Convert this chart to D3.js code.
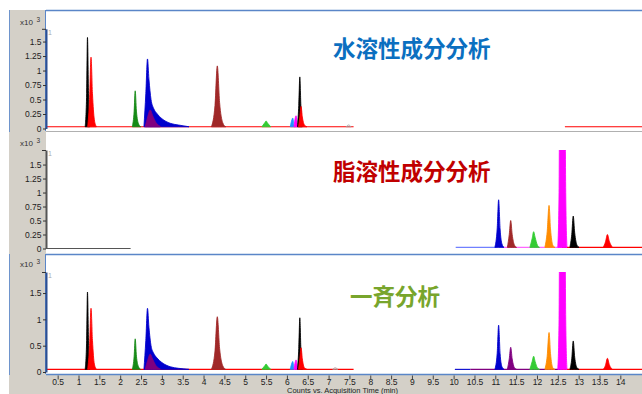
<!DOCTYPE html>
<html><head><meta charset="utf-8">
<script src="https://cdn.jsdelivr.net/npm/d3@7"></script>
<style>
body{margin:0;background:#fff}
svg{display:block}
text{font-family:"Liberation Sans",Arial,sans-serif}
.cjk{font-family:"Noto Sans CJK JP","Noto Sans CJK SC",sans-serif;font-weight:bold}
</style>
</head><body>
<svg id="c" width="642" height="394"></svg>
<script>
// ---------- data ----------
const titles = ["水溶性成分分析", "脂溶性成分分析", "一斉分析"];
const xTicks = [0.5,1,1.5,2,2.5,3,3.5,4,4.5,5,5.5,6,6.5,7,7.5,8,8.5,9,9.5,10,10.5,11,11.5,12,12.5,13,13.5,14];
const xTickLabels = ["0.5","1","1.5","2","2.5","3","3.5","4","4.5","5","5.5","6","6.5","7","7.5","8","8.5","9","9.5","10","10.5","11","11.5","12","12.5","13","13.5","14"];
const yTicksFine = [0,0.25,0.5,0.75,1,1.25,1.5];
const yTickLabelsFine = ["0","0.25","0.5","0.75","1","1.25","1.5"];
const yTicksCoarse = [0,0.5,1,1.5];
const yTickLabelsCoarse = ["0","0.5","1","1.5"];
const xAxisTitle = "Counts vs. Acquisition Time (min)";
const yUnit = "x10";
const yExp = "3";

// panel 1: water-soluble (x10^3 counts vs min)
const waterBaselines = [
  ["red",[[0.22,0.03],[7.6,0.03]]],
  ["red",[[12.67,0.03],[14.52,0.03]]]
];
const waterPeaks = [
  ["black",[[1.16,0.03],[1.195,0.6],[1.215,1.57],[1.24,0.6],[1.27,0.03]]],
  ["red",[[1.22,0.03],[1.265,0.5],[1.30,1.23],[1.335,0.6],[1.38,0.15],[1.43,0.03]]],
  ["green",[[2.29,0.03],[2.335,0.3],[2.36,0.65],[2.39,0.3],[2.44,0.08],[2.49,0.03]]],
  ["blue",[[2.57,0.03],[2.615,0.6],[2.655,1.20],[2.69,0.85],[2.74,0.5],[2.8,0.35],[2.88,0.26],[3.0,0.17],[3.2,0.09],[3.4,0.06],[3.65,0.03]]],
  ["purple",[[2.6,0.03],[2.66,0.2],[2.72,0.32],[2.78,0.22],[2.86,0.1],[2.96,0.04]]],
  ["brown",[[4.19,0.03],[4.275,0.4],[4.33,1.08],[4.385,0.45],[4.46,0.1],[4.53,0.03]]],
  ["lime",[[5.40,0.03],[5.47,0.1],[5.50,0.13],[5.54,0.09],[5.61,0.03]]],
  ["dodger",[[6.08,0.03],[6.12,0.15],[6.14,0.18],[6.17,0.06],[6.2,0.03]]],
  ["magenta",[[6.17,0.03],[6.2,0.18],[6.22,0.22],[6.25,0.08],[6.28,0.03]]],
  ["black",[[6.255,0.03],[6.285,0.4],[6.31,0.89],[6.335,0.4],[6.37,0.03]]],
  ["red",[[6.28,0.03],[6.31,0.2],[6.34,0.38],[6.37,0.2],[6.42,0.06],[6.48,0.03]]],
  ["gray",[[7.42,0.03],[7.48,0.06],[7.54,0.03]]]
];

// panel 2: fat-soluble
const fatBaselines = [
  ["dim",[[0.22,0.0],[2.25,0.0]]],
  ["lightblue",[[10.05,0.02],[11.0,0.02]]],
  ["pink",[[11.2,0.02],[12.6,0.02]]],
  ["red",[[12.6,0.02],[14.52,0.02]]]
];
const fatPeaks = [
  ["blue",[[10.99,0.02],[11.045,0.35],[11.08,0.87],[11.115,0.35],[11.16,0.08],[11.21,0.02]]],
  ["brown",[[11.29,0.02],[11.335,0.25],[11.37,0.5],[11.405,0.25],[11.46,0.06],[11.51,0.02]]],
  ["lime",[[11.83,0.02],[11.885,0.18],[11.92,0.30],[11.955,0.2],[12.01,0.06],[12.06,0.02]]],
  ["orange",[[12.19,0.02],[12.245,0.3],[12.29,0.77],[12.325,0.35],[12.38,0.06],[12.43,0.02]]],
  ["magenta",[[12.50,0.02],[12.53,1.0],[12.545,3.0],[12.61,4.5],[12.67,3.0],[12.69,1.0],[12.72,0.02]]],
  ["black",[[12.79,0.02],[12.835,0.25],[12.87,0.58],[12.905,0.28],[12.96,0.06],[13.01,0.02]]],
  ["red",[[13.59,0.02],[13.645,0.12],[13.69,0.25],[13.735,0.13],[13.81,0.02]]]
];

// panel 3: simultaneous analysis
const allBaselines = [
  ["red",[[0.22,0.05],[7.6,0.05]]],
  ["blue",[[10.03,0.05],[10.4,0.05]]],
  ["purple",[[10.4,0.05],[12.6,0.05]]],
  ["red",[[12.6,0.05],[14.52,0.05]]]
];
const allPeaks = [
  ["black",[[1.16,0.05],[1.195,0.6],[1.215,1.52],[1.24,0.6],[1.27,0.05]]],
  ["red",[[1.22,0.05],[1.265,0.5],[1.30,1.21],[1.335,0.6],[1.38,0.15],[1.43,0.05]]],
  ["green",[[2.29,0.05],[2.335,0.3],[2.36,0.63],[2.39,0.3],[2.44,0.1],[2.49,0.05]]],
  ["blue",[[2.57,0.05],[2.615,0.6],[2.655,1.21],[2.69,0.85],[2.74,0.5],[2.8,0.36],[2.88,0.27],[3.0,0.18],[3.2,0.1],[3.4,0.07],[3.65,0.05]]],
  ["purple",[[2.6,0.05],[2.66,0.22],[2.72,0.34],[2.78,0.24],[2.86,0.12],[2.96,0.06]]],
  ["brown",[[4.19,0.05],[4.275,0.4],[4.33,1.05],[4.385,0.45],[4.46,0.12],[4.53,0.05]]],
  ["lime",[[5.40,0.05],[5.47,0.12],[5.50,0.15],[5.54,0.11],[5.61,0.05]]],
  ["dodger",[[6.08,0.05],[6.12,0.17],[6.14,0.2],[6.17,0.08],[6.2,0.05]]],
  ["magenta",[[6.17,0.05],[6.2,0.19],[6.22,0.23],[6.25,0.1],[6.28,0.05]]],
  ["black",[[6.255,0.05],[6.285,0.45],[6.31,1.03],[6.335,0.45],[6.37,0.05]]],
  ["red",[[6.28,0.05],[6.31,0.25],[6.34,0.46],[6.37,0.25],[6.42,0.08],[6.48,0.05]]],
  ["gray",[[7.1,0.05],[7.16,0.08],[7.22,0.05]]],
  ["blue",[[10.99,0.05],[11.045,0.35],[11.08,0.89],[11.115,0.35],[11.16,0.1],[11.21,0.05]]],
  ["purple",[[11.29,0.05],[11.335,0.25],[11.37,0.47],[11.405,0.25],[11.46,0.08],[11.51,0.05]]],
  ["lime",[[11.83,0.05],[11.885,0.2],[11.92,0.30],[11.955,0.2],[12.01,0.08],[12.06,0.05]]],
  ["orange",[[12.19,0.05],[12.245,0.3],[12.29,0.75],[12.325,0.35],[12.38,0.08],[12.43,0.05]]],
  ["magenta",[[12.50,0.05],[12.53,1.0],[12.545,3.0],[12.61,4.5],[12.67,3.0],[12.69,1.0],[12.72,0.05]]],
  ["black",[[12.79,0.05],[12.835,0.25],[12.87,0.59],[12.905,0.28],[12.96,0.08],[13.01,0.05]]],
  ["red",[[13.59,0.05],[13.645,0.13],[13.69,0.26],[13.735,0.14],[13.81,0.05]]]
];

// ---------- styles ----------
const colors = {black:"#000000",red:"#ff0000",green:"#158a15",blue:"#0000cd",purple:"#800080",
  brown:"#a02828",lime:"#33cc33",dodger:"#1e90ff",magenta:"#ff00ff",orange:"#ff8c00",
  gray:"#a0a0a0",dim:"#555555",lightblue:"#7080ff",pink:"#ff66ff"};
const titleColors = ["#0b6fc0","#c00000","#78a52c"];

// ---------- layout ----------
const svg = d3.select("#c");
const W = 642, L = 46;
const x = d3.scaleLinear().domain([0.22,14.52]).range([L, W]);

const panels = [
  {top:10, bottom:131, zero:128.5, axTop:28.8, dom:1.72, ticks:yTicksFine, labels:yTickLabelsFine,
   base:waterBaselines, peaks:waterPeaks, axisColor:"#2c4f92", unitY:25, titleY:46.5, titleX:333, sel:true},
  {top:131.5, bottom:250, zero:248.5, axTop:150, dom:1.76, ticks:yTicksFine, labels:yTickLabelsFine,
   base:fatBaselines, peaks:fatPeaks, axisColor:"#555555", unitY:146, titleY:170, titleX:333, sel:false},
  {top:254, bottom:374, zero:372, axTop:272, dom:1.9, ticks:yTicksCoarse, labels:yTickLabelsCoarse,
   base:allBaselines, peaks:allPeaks, axisColor:"#2c4f92", unitY:267, titleY:294.5, titleX:350, sel:true}
];

// backgrounds
svg.append("rect").attr("width",W).attr("height",394).attr("fill","#fff");
svg.append("rect").attr("x",9).attr("y",10).attr("width",L-9).attr("height",384).attr("fill","#d4d0c8");
svg.append("rect").attr("x",9).attr("y",375).attr("width",W-9).attr("height",19).attr("fill","#d4d0c8");

const defs = svg.append("defs");

panels.forEach((p,i)=>{
  const y = d3.scaleLinear().domain([0,p.dom]).range([p.zero,p.axTop]);
  const g = svg.append("g");
  defs.append("clipPath").attr("id","clip"+i).append("rect")
    .attr("x",L+1).attr("y",p.axTop).attr("width",W-L).attr("height",p.bottom-p.axTop);
  const cg = g.append("g").attr("clip-path","url(#clip"+i+")");

  const line = d3.line().x(d=>x(d[0])).y(d=>y(d[1]));
  p.base.forEach(([c,pts])=>{
    cg.append("path").attr("d",line(pts)).attr("fill","none")
      .attr("stroke",colors[c]).attr("stroke-width",1.1);
  });
  p.peaks.forEach(([c,pts])=>{
    const b = d3.min(pts,d=>d[1]);
    const area = d3.area().curve(d3.curveMonotoneX).x(d=>x(d[0])).y0(y(b)).y1(d=>y(d[1]));
    cg.append("path").attr("d",area(pts))
      .attr("fill", c==="gray" ? "none" : colors[c])
      .attr("stroke",colors[c]).attr("stroke-width",1).attr("stroke-opacity",0.85);
  });

  // frames
  if(p.sel){
    svg.append("line").attr("x1",L).attr("x2",W).attr("y1",p.top+0.5).attr("y2",p.top+0.5)
      .attr("stroke","#5a86c8").attr("stroke-width",1.5);
    svg.append("line").attr("x1",9.5).attr("x2",9.5).attr("y1",p.top).attr("y2",p.bottom+1)
      .attr("stroke","#6e94cc").attr("stroke-width",1);
    svg.append("line").attr("x1",L-0.5).attr("x2",L-0.5).attr("y1",p.top).attr("y2",p.bottom)
      .attr("stroke","#5a86c8").attr("stroke-width",1);
  }
  if(i===0){
    svg.append("line").attr("x1",L).attr("x2",W).attr("y1",131.5).attr("y2",131.5)
      .attr("stroke","#b0b0b0").attr("stroke-width",1);
  }
  if(i===2){
    svg.append("line").attr("x1",L).attr("x2",W).attr("y1",374.5).attr("y2",374.5)
      .attr("stroke","#5a86c8").attr("stroke-width",1.5);
  }

  // y axis
  const ax = d3.axisLeft(y).tickValues(p.ticks).tickFormat((d,j)=>p.labels[j]).tickSize(3).tickSizeOuter(0);
  const ag = svg.append("g").attr("transform",`translate(${L},0)`).call(ax);
  ag.select(".domain").attr("stroke",p.axisColor).attr("stroke-width",2);
  ag.selectAll(".tick line").attr("stroke","#333");
  ag.selectAll(".tick text").attr("font-size",8.5).attr("fill","#222")
    .attr("font-family","Liberation Sans, Arial, sans-serif").attr("x",-4.5);
  // top end tick
  svg.append("line").attr("x1",L-4).attr("x2",L).attr("y1",p.axTop+0.5).attr("y2",p.axTop+0.5)
    .attr("stroke","#333").attr("stroke-width",1);
  svg.append("text").attr("x",48).attr("y",p.axTop+6).attr("font-size",7).attr("fill","#aaa").text("1");

  // unit label
  svg.append("text").attr("x",20).attr("y",p.unitY).attr("font-size",8).attr("fill","#333").text(yUnit);
  svg.append("text").attr("x",36.5).attr("y",p.unitY-3.5).attr("font-size",6.5).attr("fill","#333").text(yExp);

  // title
  svg.append("text").attr("class","cjk").attr("x",p.titleX).attr("y",p.titleY)
    .attr("dominant-baseline","central").attr("font-size",22.5).attr("fill",titleColors[i]).text(titles[i]);
});

// x axis
const xa = d3.axisBottom(x).tickValues(xTicks).tickFormat((d,j)=>xTickLabels[j]).tickSize(4).tickSizeOuter(0);
const xg = svg.append("g").attr("transform","translate(0,375.5)").call(xa);
xg.select(".domain").remove();
xg.selectAll(".tick line").attr("stroke","#444");
xg.selectAll(".tick text").attr("font-size",8.5).attr("fill","#222")
  .attr("font-family","Liberation Sans, Arial, sans-serif").attr("dy","0.6em").attr("y",4);
svg.append("text").attr("x",287).attr("y",392.5).attr("font-size",8).attr("fill","#222")
  .attr("textLength",111).attr("lengthAdjust","spacingAndGlyphs").text(xAxisTitle);
</script>
</body></html>
